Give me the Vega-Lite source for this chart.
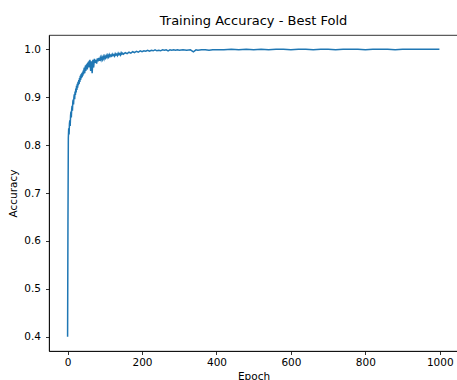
{
  "$schema": "https://vega.github.io/schema/vega-lite/v6.json",
  "autosize": {"type": "none"},
  "padding": {"left": 49, "top": 35, "right": 0, "bottom": 29},
  "width": 409,
  "height": 316,
  "background": "white",
  "title": {"text": "Training Accuracy - Best Fold", "font": "DejaVu Sans", "fontSize": 13, "fontWeight": "normal", "color": "#000000", "offset": 7, "anchor": "middle"},
  "config": {
    "view": {"stroke": "#000000", "strokeWidth": 0.8},
    "axis": {"labelFont": "DejaVu Sans", "titleFont": "DejaVu Sans", "labelFontSize": 10.5, "titleFontSize": 10.5, "titleFontWeight": "normal", "labelColor": "#000000", "titleColor": "#000000", "tickColor": "#000000", "domainColor": "#000000", "domainWidth": 0.8, "tickWidth": 0.8, "tickSize": 3.5, "grid": false}
  },
  "data": {"values": [
    {"epoch":0,"acc":0.400},{"epoch":1,"acc":0.640},{"epoch":2,"acc":0.815},{"epoch":3,"acc":0.835},{"epoch":4,"acc":0.822},{"epoch":5,"acc":0.845},{"epoch":6,"acc":0.852},{"epoch":7,"acc":0.840},{"epoch":8,"acc":0.862},{"epoch":9,"acc":0.870},
    {"epoch":10,"acc":0.858},{"epoch":11,"acc":0.875},{"epoch":12,"acc":0.882},{"epoch":13,"acc":0.872},{"epoch":14,"acc":0.890},{"epoch":15,"acc":0.895},{"epoch":16,"acc":0.885},{"epoch":17,"acc":0.900},{"epoch":18,"acc":0.906},{"epoch":19,"acc":0.896},
    {"epoch":20,"acc":0.912},{"epoch":21,"acc":0.905},{"epoch":22,"acc":0.918},{"epoch":23,"acc":0.910},{"epoch":24,"acc":0.924},{"epoch":25,"acc":0.915},{"epoch":26,"acc":0.928},{"epoch":27,"acc":0.920},{"epoch":28,"acc":0.932},{"epoch":29,"acc":0.925},
    {"epoch":30,"acc":0.936},{"epoch":31,"acc":0.928},{"epoch":32,"acc":0.940},{"epoch":33,"acc":0.932},{"epoch":34,"acc":0.945},{"epoch":35,"acc":0.936},{"epoch":36,"acc":0.948},{"epoch":37,"acc":0.940},{"epoch":38,"acc":0.950},{"epoch":39,"acc":0.942},
    {"epoch":40,"acc":0.952},{"epoch":41,"acc":0.945},{"epoch":42,"acc":0.956},{"epoch":43,"acc":0.948},{"epoch":44,"acc":0.958},{"epoch":45,"acc":0.962},{"epoch":46,"acc":0.950},{"epoch":47,"acc":0.960},{"epoch":48,"acc":0.966},{"epoch":49,"acc":0.955},
    {"epoch":50,"acc":0.968},{"epoch":51,"acc":0.960},{"epoch":52,"acc":0.970},{"epoch":53,"acc":0.958},{"epoch":54,"acc":0.972},{"epoch":55,"acc":0.964},{"epoch":56,"acc":0.974},{"epoch":57,"acc":0.962},{"epoch":58,"acc":0.976},{"epoch":59,"acc":0.968},
    {"epoch":60,"acc":0.978},{"epoch":62,"acc":0.955},{"epoch":64,"acc":0.975},{"epoch":66,"acc":0.950},{"epoch":68,"acc":0.978},{"epoch":70,"acc":0.962},{"epoch":72,"acc":0.980},{"epoch":74,"acc":0.972},{"epoch":76,"acc":0.978},{"epoch":78,"acc":0.970},
    {"epoch":80,"acc":0.981},{"epoch":82,"acc":0.975},{"epoch":84,"acc":0.982},{"epoch":86,"acc":0.976},{"epoch":88,"acc":0.983},{"epoch":90,"acc":0.978},{"epoch":92,"acc":0.984},{"epoch":94,"acc":0.979},{"epoch":96,"acc":0.985},{"epoch":98,"acc":0.980},
    {"epoch":100,"acc":0.986},{"epoch":102,"acc":0.982},{"epoch":104,"acc":0.987},{"epoch":106,"acc":0.983},{"epoch":108,"acc":0.988},{"epoch":110,"acc":0.984},{"epoch":112,"acc":0.989},{"epoch":114,"acc":0.985},{"epoch":116,"acc":0.988},{"epoch":118,"acc":0.986},
    {"epoch":120,"acc":0.990},{"epoch":122,"acc":0.987},{"epoch":124,"acc":0.989},{"epoch":126,"acc":0.986},{"epoch":128,"acc":0.991},{"epoch":130,"acc":0.988},{"epoch":132,"acc":0.990},{"epoch":134,"acc":0.987},{"epoch":136,"acc":0.992},{"epoch":138,"acc":0.989},
    {"epoch":140,"acc":0.991},{"epoch":142,"acc":0.988},{"epoch":144,"acc":0.993},{"epoch":146,"acc":0.990},{"epoch":148,"acc":0.992},{"epoch":150,"acc":0.990},{"epoch":155,"acc":0.993},{"epoch":160,"acc":0.991},{"epoch":165,"acc":0.994},{"epoch":170,"acc":0.992},
    {"epoch":175,"acc":0.995},{"epoch":180,"acc":0.993},{"epoch":185,"acc":0.996},{"epoch":190,"acc":0.994},{"epoch":195,"acc":0.997},{"epoch":200,"acc":0.995},{"epoch":205,"acc":0.997},{"epoch":210,"acc":0.996},{"epoch":215,"acc":0.998},{"epoch":220,"acc":0.996},
    {"epoch":225,"acc":0.998},{"epoch":230,"acc":0.997},{"epoch":235,"acc":0.999},{"epoch":240,"acc":0.997},{"epoch":245,"acc":0.998},{"epoch":250,"acc":0.997},{"epoch":255,"acc":0.999},{"epoch":260,"acc":0.998},{"epoch":265,"acc":0.999},{"epoch":270,"acc":0.997},
    {"epoch":275,"acc":0.999},{"epoch":280,"acc":0.998},{"epoch":285,"acc":0.999},{"epoch":290,"acc":0.998},{"epoch":295,"acc":0.999},{"epoch":300,"acc":0.998},{"epoch":310,"acc":0.999},{"epoch":320,"acc":0.998},{"epoch":330,"acc":0.999},{"epoch":338,"acc":0.995},
    {"epoch":345,"acc":0.999},{"epoch":350,"acc":0.998},{"epoch":360,"acc":0.999},{"epoch":370,"acc":0.999},{"epoch":380,"acc":0.998},{"epoch":390,"acc":0.999},{"epoch":400,"acc":0.999},{"epoch":420,"acc":0.999},{"epoch":440,"acc":1.000},{"epoch":460,"acc":0.999},
    {"epoch":480,"acc":1.000},{"epoch":500,"acc":0.999},{"epoch":520,"acc":1.000},{"epoch":540,"acc":0.999},{"epoch":560,"acc":1.000},{"epoch":580,"acc":1.000},{"epoch":600,"acc":0.999},{"epoch":620,"acc":1.000},{"epoch":640,"acc":1.000},{"epoch":660,"acc":0.999},
    {"epoch":680,"acc":1.000},{"epoch":700,"acc":1.000},{"epoch":720,"acc":0.999},{"epoch":740,"acc":1.000},{"epoch":760,"acc":1.000},{"epoch":780,"acc":1.000},{"epoch":800,"acc":0.999},{"epoch":820,"acc":1.000},{"epoch":840,"acc":1.000},{"epoch":860,"acc":1.000},
    {"epoch":880,"acc":0.999},{"epoch":900,"acc":1.000},{"epoch":920,"acc":1.000},{"epoch":940,"acc":1.000},{"epoch":960,"acc":1.000},{"epoch":980,"acc":1.000},{"epoch":999,"acc":1.000}
  ]},
  "mark": {"type": "line", "color": "#1f77b4", "strokeWidth": 1.5, "clip": true},
  "encoding": {
    "x": {"field": "epoch", "type": "quantitative", "title": "Epoch", "scale": {"domain": [-49.95, 1048.95], "nice": false, "zero": false}, "axis": {"values": [0, 200, 400, 600, 800, 1000], "format": "d", "labelPadding": 3, "titlePadding": 3}},
    "y": {"field": "acc", "type": "quantitative", "title": "Accuracy", "scale": {"domain": [0.37, 1.03], "nice": false, "zero": false}, "axis": {"values": [0.4, 0.5, 0.6, 0.7, 0.8, 0.9, 1.0], "format": ".1f", "labelPadding": 5, "titlePadding": 5}}
  }
}
